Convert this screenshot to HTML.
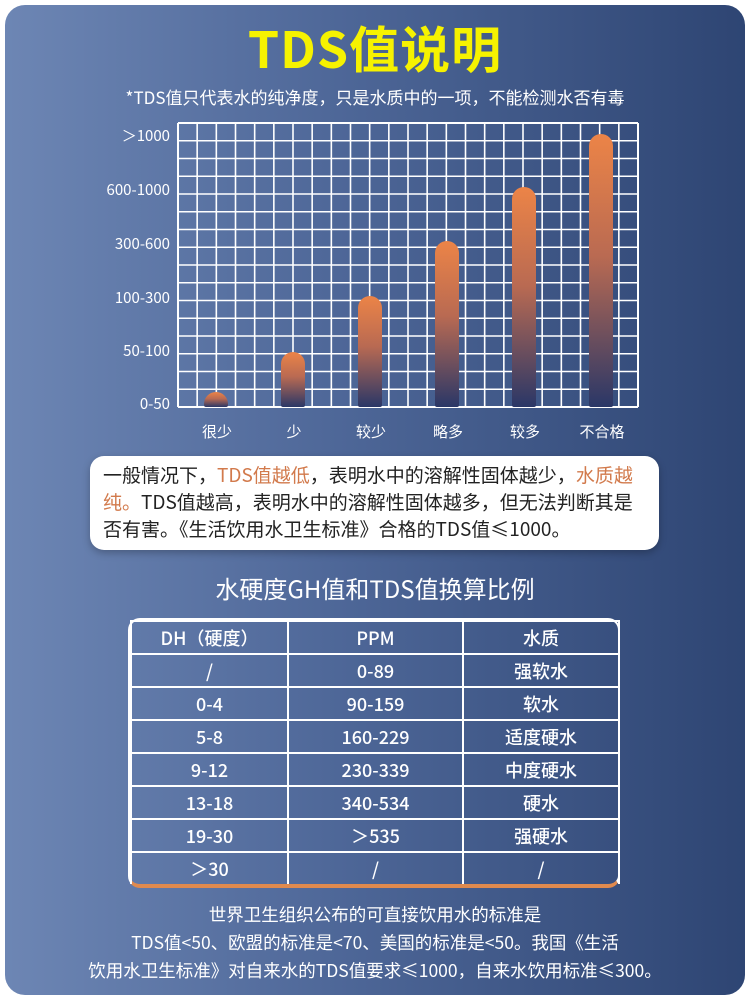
<!DOCTYPE html>
<html><head><meta charset="utf-8"><style>
body{margin:0;width:750px;height:1000px;background:#fff;overflow:hidden;font-family:"Noto Sans CJK SC","Liberation Sans",sans-serif;}
.panel{position:absolute;left:5px;top:5px;width:740px;height:990px;border-radius:20px;background:linear-gradient(90deg,#6d86b4 0%,#4e6798 45%,#2e4573 100%);overflow:hidden;}
.abs{position:absolute;}
.t{color:#fff;white-space:nowrap;}
.title{left:0;width:750px;top:14px;text-align:center;font-size:50px;font-weight:bold;color:#f6f200;line-height:66px;letter-spacing:1px;}
.sub{left:0;width:750px;top:85px;text-align:center;font-size:17px;line-height:24px;}
.yl{right:580px;font-size:15px;line-height:18px;}
.xl{width:80px;text-align:center;font-size:15px;top:422px;line-height:20px;}
.bar{width:24px;border-radius:12px 12px 2px 2px;background:linear-gradient(180deg,#ec8447 0%,#b96a52 45%,#2a3767 100%);bottom:593px;}
.box{left:90px;top:456px;width:569px;height:94px;background:#fff;border-radius:14px;box-shadow:0 3px 8px rgba(0,0,0,.25);}
.box p{margin:0;position:absolute;left:13px;font-size:19px;line-height:26px;color:#222;white-space:nowrap;}
.o{color:#d27a4c;}
table{position:absolute;left:130px;top:620px;width:490px;border-collapse:collapse;color:#fff;font-size:18px;font-weight:500;}
td{border:2px solid #fff;height:31px;text-align:center;padding:0;line-height:20px;}
.tw{position:absolute;left:128px;top:618px;width:492px;height:270px;border-radius:12px;border:2px solid #fff;border-bottom:4px solid #e08a4e;box-sizing:border-box;}
.bt{left:0;width:750px;text-align:center;font-size:17.5px;line-height:28px;}
</style></head><body>
<div class="panel"></div>
<div class="abs title">TDS值说明</div>
<div class="abs t sub">*TDS值只代表水的纯净度，只是水质中的一项，不能检测水否有毒</div>
<svg class="abs" style="left:0;top:0" width="750" height="450">
<g stroke="#fff" stroke-width="2">
<path d="M178 123H638M178 407H638M178 123V407M638 123V407"/>
</g>
<g stroke="#fff" stroke-width="1.6" id="grid"></g>
</svg>
<script>
var g=document.getElementById('grid'),s='';
for(var i=1;i<24;i++){var x=178+i*460/24;s+='<line x1="'+x+'" y1="123" x2="'+x+'" y2="407"/>';}
for(var j=1;j<16;j++){var y=123+j*284/16;s+='<line x1="178" y1="'+y+'" x2="638" y2="'+y+'"/>';}
g.innerHTML=s;
</script>
<div class="abs t yl" style="top:127px">＞1000</div>
<div class="abs t yl" style="top:181px">600-1000</div>
<div class="abs t yl" style="top:235px">300-600</div>
<div class="abs t yl" style="top:289px">100-300</div>
<div class="abs t yl" style="top:342px">50-100</div>
<div class="abs t yl" style="top:395px">0-50</div>
<div class="abs bar" style="left:204px;height:15px"></div>
<div class="abs bar" style="left:281px;height:55px"></div>
<div class="abs bar" style="left:358px;height:111px"></div>
<div class="abs bar" style="left:435px;height:166px"></div>
<div class="abs bar" style="left:512px;height:220px"></div>
<div class="abs bar" style="left:589px;height:273px"></div>
<div class="abs t xl" style="left:177px">很少</div>
<div class="abs t xl" style="left:254px">少</div>
<div class="abs t xl" style="left:331px">较少</div>
<div class="abs t xl" style="left:408px">略多</div>
<div class="abs t xl" style="left:485px">较多</div>
<div class="abs t xl" style="left:562px">不合格</div>
<div class="abs box">
<p style="top:6px">一般情况下，<span class="o">TDS值越低</span>，表明水中的溶解性固体越少，<span class="o">水质越</span></p>
<p style="top:33px"><span class="o">纯。</span>TDS值越高，表明水中的溶解性固体越多，但无法判断其是</p>
<p style="top:60px">否有害。《生活饮用水卫生标准》合格的TDS值≤1000。</p>
</div>
<div class="abs t" style="left:0;width:750px;text-align:center;top:571px;font-size:24px;line-height:34px">水硬度GH值和TDS值换算比例</div>
<div class="tw"></div>
<table>
<tr><td style="width:155px">DH（硬度）</td><td style="width:173px">PPM</td><td>水质</td></tr>
<tr><td>/</td><td>0-89</td><td>强软水</td></tr>
<tr><td>0-4</td><td>90-159</td><td>软水</td></tr>
<tr><td>5-8</td><td>160-229</td><td>适度硬水</td></tr>
<tr><td>9-12</td><td>230-339</td><td>中度硬水</td></tr>
<tr><td>13-18</td><td>340-534</td><td>硬水</td></tr>
<tr><td>19-30</td><td>＞535</td><td>强硬水</td></tr>
<tr><td style="border-bottom:none">＞30</td><td style="border-bottom:none">/</td><td style="border-bottom:none">/</td></tr>
</table>
<div class="abs t bt" style="top:901px">世界卫生组织公布的可直接饮用水的标准是</div>
<div class="abs t bt" style="top:929px">TDS值&lt;50、欧盟的标准是&lt;70、美国的标准是&lt;50。我国《生活</div>
<div class="abs t bt" style="top:957px">饮用水卫生标准》对自来水的TDS值要求≤1000，自来水饮用标准≤300。</div>
</body></html>
